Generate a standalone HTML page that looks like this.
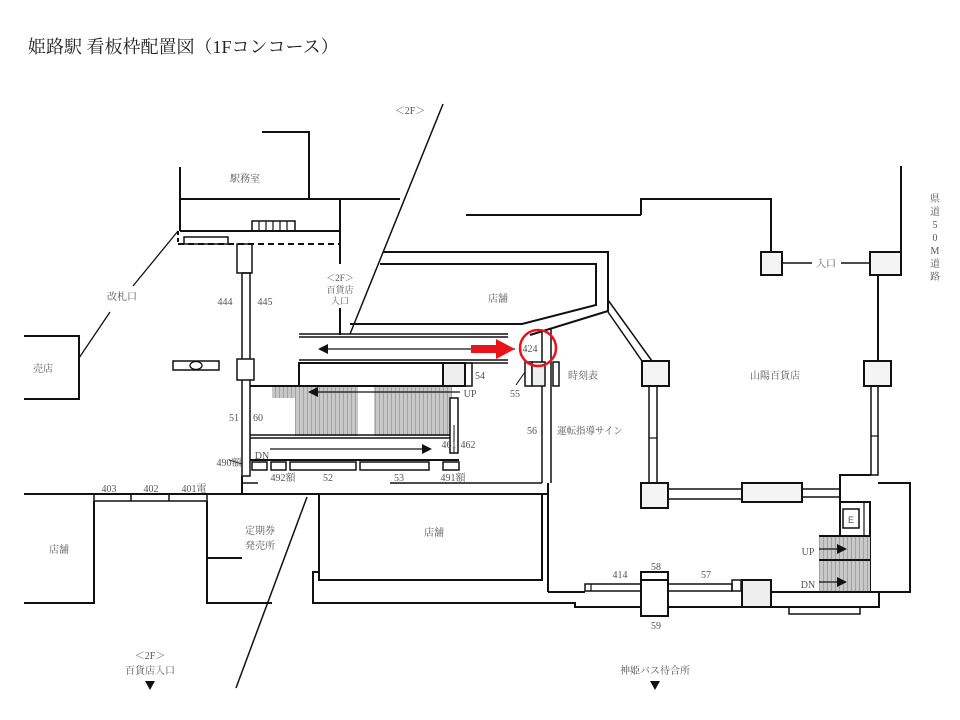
<!DOCTYPE html>
<html><head><meta charset="utf-8"><style>
html,body{margin:0;padding:0;background:#fff;}
svg{display:block;}
text{font-family:"Liberation Serif","Noto Serif CJK JP","Noto Serif CJK SC",serif;fill:#555;font-size:10px;}
</style></head><body>
<svg width="960" height="720" viewBox="0 0 960 720" xmlns="http://www.w3.org/2000/svg">
<defs>
<pattern id="hatch" width="4" height="10" patternUnits="userSpaceOnUse">
<rect width="4" height="10" fill="#c8c8c8"/><line x1="3.5" y1="0" x2="3.5" y2="10" stroke="#9a9a9a" stroke-width="0.8"/>
</pattern>
</defs>
<text x="28" y="53" style="font-size:18px;fill:#222;font-family:'Liberation Serif','Noto Serif CJK JP',serif">姫路駅 看板枠配置図（1Fコンコース）</text>

<g fill="none" stroke="#111" stroke-width="2">
<polyline points="262,132 309,132 309,199"/>
<line x1="180" y1="167" x2="180" y2="231"/>
<line x1="180" y1="199" x2="400" y2="199"/>
<line x1="180" y1="231" x2="340" y2="231"/>
<line x1="340" y1="199" x2="340" y2="264"/>
<line x1="340" y1="308" x2="340" y2="335"/>
<line x1="178" y1="244" x2="340" y2="244" stroke-dasharray="6,4"/>
<line x1="178" y1="231" x2="178" y2="244" stroke-dasharray="4,3"/>
<rect x="252" y="221" width="43" height="10" stroke-width="1.5"/>
<line x1="259" y1="221" x2="259" y2="231" stroke-width="1.2"/><line x1="266" y1="221" x2="266" y2="231" stroke-width="1.2"/><line x1="273" y1="221" x2="273" y2="231" stroke-width="1.2"/><line x1="280" y1="221" x2="280" y2="231" stroke-width="1.2"/><line x1="287" y1="221" x2="287" y2="231" stroke-width="1.2"/>
<rect x="184" y="237" width="44" height="7" stroke-width="1.5"/>
<rect x="237" y="244" width="15" height="29" stroke-width="1.5"/>
<rect x="242" y="273" width="8" height="203" stroke-width="1.5"/>
<rect x="237" y="359" width="17" height="21" fill="#fff" stroke-width="1.5"/>
<line x1="242" y1="476" x2="242" y2="494"/>
<line x1="242" y1="483" x2="258" y2="483" stroke-width="1.5"/>
<line x1="178" y1="231" x2="133" y2="286" stroke-width="1.3"/>
<line x1="110" y1="312" x2="79" y2="358" stroke-width="1.3"/>
<polyline points="24,336 79,336 79,399 24,399"/>
<rect x="173" y="361" width="46" height="9" stroke-width="1.5"/>
<ellipse cx="196" cy="365.5" rx="6" ry="4" stroke-width="1.3"/>
<line x1="443" y1="104" x2="350" y2="334" stroke-width="1.5"/>
<line x1="307" y1="497" x2="236" y2="688" stroke-width="1.5"/>
<line x1="466" y1="215" x2="641" y2="215"/>
<polyline points="641,215 641,199 771,199 771,252"/>
<polyline points="383,252 608,252 608,311 530,335"/>
<polyline points="380,264 596,264 596,305 522,324 350,324"/>
<line x1="608" y1="300" x2="652" y2="361" stroke-width="1.5"/>
<line x1="608" y1="312" x2="642" y2="361" stroke-width="1.5"/>
<line x1="299" y1="334" x2="508" y2="334" stroke-width="1.5"/>
<line x1="299" y1="337" x2="508" y2="337" stroke-width="1.5"/>
<line x1="299" y1="360" x2="508" y2="360" stroke-width="1.5"/>
<line x1="299" y1="363" x2="508" y2="363" stroke-width="1.5"/>
<line x1="542" y1="330" x2="542" y2="483" stroke-width="1.5"/>
<line x1="551" y1="328" x2="551" y2="483" stroke-width="1.5"/>
<line x1="548" y1="483" x2="548" y2="592"/>
<rect x="299" y="363" width="144" height="23"/>
<rect x="443" y="363" width="22" height="23" fill="#eee"/>
<rect x="465" y="363" width="7" height="23" stroke-width="1.5"/>
<rect x="525" y="362" width="7" height="24" stroke-width="1.5"/>
<rect x="532" y="362" width="13" height="24" fill="#eee" stroke-width="1.5"/>
<rect x="553" y="362" width="6" height="24" stroke-width="1.5"/>
<line x1="525" y1="372" x2="516" y2="385" stroke-width="1"/>
</g>
<rect x="272" y="387" width="23" height="11" fill="url(#hatch)"/>
<rect x="295" y="387" width="63" height="49" fill="url(#hatch)"/>
<rect x="374" y="387" width="78" height="49" fill="url(#hatch)"/>
<g fill="none" stroke="#111" stroke-width="2">
<line x1="250" y1="386" x2="465" y2="386"/>
<line x1="250" y1="435" x2="452" y2="435" stroke-width="1.5"/>
<line x1="250" y1="438" x2="452" y2="438" stroke-width="1.5"/>
<rect x="450" y="398" width="8" height="55" fill="#fff" stroke-width="1.5"/>
<line x1="454" y1="425" x2="454" y2="453" stroke-width="1"/>
<line x1="250" y1="460" x2="459" y2="460"/>
<rect x="252" y="462" width="15" height="8" stroke-width="1.5"/>
<rect x="271" y="462" width="15" height="8" stroke-width="1.5"/>
<rect x="290" y="462" width="66" height="8" stroke-width="1.5"/>
<rect x="360" y="462" width="69" height="8" stroke-width="1.5"/>
<rect x="443" y="462" width="16" height="8" stroke-width="1.5"/>
<line x1="229" y1="460" x2="242" y2="464" stroke-width="1"/>
<line x1="390" y1="483" x2="542" y2="483" stroke-width="1.5"/>
<line x1="325" y1="349" x2="515" y2="349" stroke-width="1.2"/>
<line x1="315" y1="392" x2="460" y2="392" stroke-width="1.2"/>
<line x1="270" y1="449" x2="425" y2="449" stroke-width="1.2"/>
<line x1="24" y1="494" x2="548" y2="494"/>
<rect x="94" y="494" width="113" height="7" stroke-width="1.5"/>
<line x1="131" y1="494" x2="131" y2="501" stroke-width="1.5"/>
<line x1="169" y1="494" x2="169" y2="501" stroke-width="1.5"/>
<polyline points="94,501 94,603 24,603"/>
<polyline points="207,501 207,603 272,603"/>
<line x1="207" y1="558" x2="242" y2="558"/>
<rect x="319" y="494" width="223" height="86"/>
<polyline points="319,572 313,572 313,603 575,603 575,607 879,607 879,592 910,592 910,483 878,483"/>
<rect x="789" y="607" width="71" height="7" stroke-width="1.5"/>
<line x1="548" y1="592" x2="585" y2="592"/>
<rect x="585" y="584" width="56" height="7" stroke-width="1.5"/>
<line x1="591" y1="584" x2="591" y2="591" stroke-width="1.2"/>
<rect x="641" y="572" width="27" height="44" fill="#fff"/>
<line x1="641" y1="580" x2="668" y2="580"/>
<rect x="668" y="584" width="64" height="7" stroke-width="1.5"/>
<rect x="732" y="580" width="9" height="11" stroke-width="1.5"/>
<rect x="742" y="580" width="29" height="27" fill="#eee"/>
<line x1="771" y1="592" x2="879" y2="592"/>
<rect x="761" y="252" width="21" height="23" fill="#f4f4f4"/>
<line x1="782" y1="263" x2="812" y2="263" stroke-width="1.5"/>
<line x1="841" y1="263" x2="870" y2="263" stroke-width="1.5"/>
<rect x="870" y="252" width="31" height="23" fill="#f4f4f4"/>
<line x1="901" y1="166" x2="901" y2="252"/>
<line x1="878" y1="275" x2="878" y2="361"/>
<rect x="864" y="361" width="27" height="25" fill="#f4f4f4"/>
<rect x="871" y="386" width="7" height="89" stroke-width="1.5"/>
<line x1="871" y1="436" x2="878" y2="436" stroke-width="1.2"/>
<rect x="642" y="361" width="27" height="25" fill="#f4f4f4"/>
<rect x="649" y="386" width="8" height="97" stroke-width="1.5"/>
<line x1="649" y1="438" x2="657" y2="438" stroke-width="1.2"/>
<rect x="641" y="483" width="27" height="25" fill="#f4f4f4"/>
<rect x="668" y="489" width="74" height="10" stroke-width="1.5"/>
<rect x="742" y="483" width="60" height="19" fill="#f4f4f4"/>
<rect x="802" y="489" width="38" height="8" stroke-width="1.5"/>
<polyline points="840,503 840,475 871,475"/>
<rect x="840" y="502" width="30" height="34"/>
<line x1="864" y1="502" x2="864" y2="536" stroke-width="1.2"/>
<rect x="843" y="509" width="16" height="19" stroke-width="1.5"/>
<line x1="870" y1="536" x2="870" y2="592"/>
</g>
<rect x="819" y="536" width="51" height="55" fill="url(#hatch)"/>
<g stroke="#111" stroke-width="2" fill="none">
<line x1="819" y1="536" x2="870" y2="536"/>
<line x1="819" y1="560" x2="870" y2="560"/>
<line x1="819" y1="549" x2="840" y2="549" stroke-width="1.3"/>
<line x1="819" y1="582" x2="840" y2="582" stroke-width="1.3"/>
</g>
<g fill="#111">
<polygon points="318,349 328,344 328,354"/>
<polygon points="308,392 318,387 318,397"/>
<polygon points="432,449 422,444 422,454"/>
<polygon points="847,549 837,544 837,554"/>
<polygon points="847,582 837,577 837,587"/>
<polygon points="145,681 155,681 150,690"/>
<polygon points="650,681 660,681 655,690"/>
</g>
<polygon points="471,345 496,345 496,339 515,349 496,359 496,353 471,353" fill="#e8141a"/>
<circle cx="538" cy="348" r="18" fill="none" stroke="#e8141a" stroke-width="2.5"/>

<g>
<text x="410" y="114" text-anchor="middle">＜2F＞</text>
<text x="245" y="182" text-anchor="middle">駅務室</text>
<text x="340" y="281" text-anchor="middle" style="font-size:9px">＜2F＞</text>
<text x="340" y="293" text-anchor="middle" style="font-size:9px">百貨店</text>
<text x="340" y="304" text-anchor="middle" style="font-size:9px">入口</text>
<text x="122" y="300" text-anchor="middle">改札口</text>
<text x="43" y="372" text-anchor="middle">売店</text>
<text x="225" y="305" text-anchor="middle">444</text>
<text x="265" y="305" text-anchor="middle">445</text>
<text x="234" y="421" text-anchor="middle">51</text>
<text x="258" y="421" text-anchor="middle">60</text>
<text x="498" y="302" text-anchor="middle">店舗</text>
<text x="530" y="352" text-anchor="middle">424</text>
<text x="480" y="379" text-anchor="middle">54</text>
<text x="515" y="397" text-anchor="middle">55</text>
<text x="470" y="397" text-anchor="middle">UP</text>
<text x="583" y="379" text-anchor="middle">時刻表</text>
<text x="532" y="434" text-anchor="middle">56</text>
<text x="557" y="434" style="font-size:9.5px">運転指導サイン</text>
<text x="449" y="448" text-anchor="middle">461</text>
<text x="468" y="448" text-anchor="middle">462</text>
<text x="262" y="459" text-anchor="middle">DN</text>
<text x="229" y="466" text-anchor="middle">490額</text>
<text x="283" y="481" text-anchor="middle">492額</text>
<text x="328" y="481" text-anchor="middle">52</text>
<text x="399" y="481" text-anchor="middle">53</text>
<text x="453" y="481" text-anchor="middle">491額</text>
<text x="109" y="492" text-anchor="middle">403</text>
<text x="151" y="492" text-anchor="middle">402</text>
<text x="194" y="492" text-anchor="middle">401電</text>
<text x="59" y="553" text-anchor="middle">店舗</text>
<text x="260" y="534" text-anchor="middle">定期券</text>
<text x="260" y="549" text-anchor="middle">発売所</text>
<text x="434" y="536" text-anchor="middle">店舗</text>
<text x="775" y="379" text-anchor="middle">山陽百貨店</text>
<text x="826" y="267" text-anchor="middle">入口</text>
<text x="620" y="578" text-anchor="middle">414</text>
<text x="656" y="570" text-anchor="middle">58</text>
<text x="706" y="578" text-anchor="middle">57</text>
<text x="656" y="629" text-anchor="middle">59</text>
<text x="808" y="555" text-anchor="middle">UP</text>
<text x="808" y="588" text-anchor="middle">DN</text>
<text x="851" y="523" text-anchor="middle" style="font-size:9px;font-family:'Liberation Sans',sans-serif">E</text>
<text x="150" y="659" text-anchor="middle">＜2F＞</text>
<text x="150" y="674" text-anchor="middle">百貨店入口</text>
<text x="655" y="674" text-anchor="middle">神姫バス待合所</text>
<g text-anchor="middle">
<text x="935" y="202">県</text><text x="935" y="215">道</text><text x="935" y="228">5</text><text x="935" y="241">0</text><text x="935" y="254">M</text><text x="935" y="267">道</text><text x="935" y="280">路</text>
</g>
</g>
</svg>
</body></html>
